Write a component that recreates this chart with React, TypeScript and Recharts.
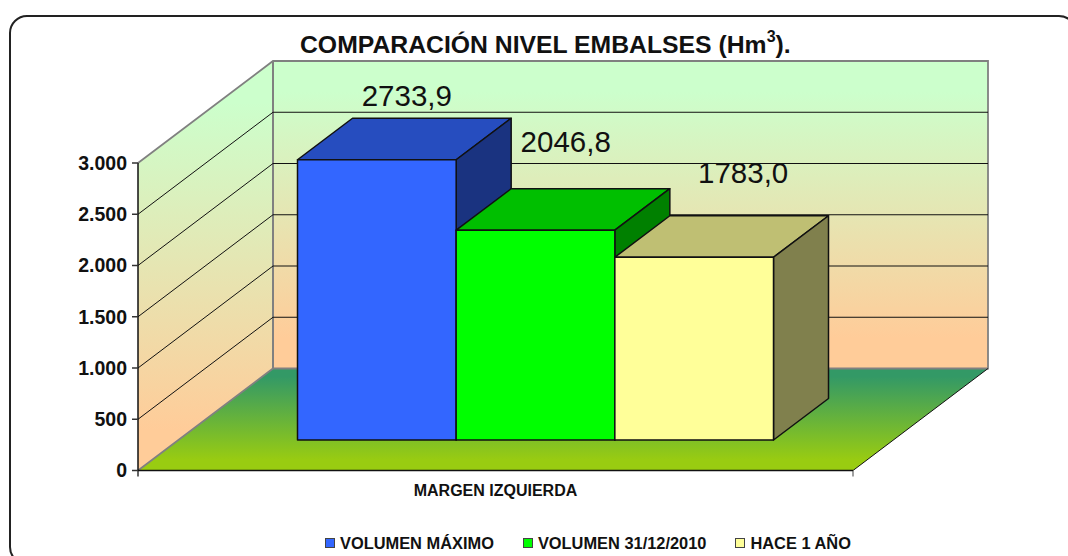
import React from "react";
import { BarChart, Bar, XAxis, YAxis, CartesianGrid, ReferenceArea, Legend, LabelList } from "recharts";

const categories = ["MARGEN IZQUIERDA"];
const seriesNames = ["VOLUMEN MÁXIMO", "VOLUMEN 31/12/2010", "HACE 1 AÑO"];
const volumenMaximo = [2733.9];
const volumen2010 = [2046.8];
const haceUnAno = [1783.0];
const yTicks = [0, 500, 1000, 1500, 2000, 2500, 3000];

const rows = categories.map((c, i) => ({
  category: c,
  a: volumenMaximo[i],
  b: volumen2010[i],
  c: haceUnAno[i],
}));

const FONT = "'Liberation Sans', Arial, sans-serif";
const DEPTH_X = 135;
const DEPTH_Y = 102;
const BAR_SHIFT_X = 40.5;
const BAR_SHIFT_Y = 30.5;
const BAR_DEPTH_X = 55;
const BAR_DEPTH_Y = 41.5;

const palette = [
  { front: "#3366FF", top: "#264DBF", side: "#1A3380" },
  { front: "#00FF00", top: "#00BF00", side: "#008000" },
  { front: "#FFFF99", top: "#BFBF73", side: "#80804D" },
];
const labelNudges = [
  { dx: 70.5, dy: -84.5 },
  { dx: 70.7, dy: -108.6 },
  { dx: 89.5, dy: -105 },
];

const pts = (list: number[][]) => list.map((p) => p.join(",")).join(" ");

const bar3d = (idx: number) => (props: any) => {
  const { x, y, width, height } = props;
  const c = palette[idx];
  const l = x + BAR_SHIFT_X;
  const r = l + width;
  const t = y - BAR_SHIFT_Y;
  const b = t + height;
  const dx = BAR_DEPTH_X;
  const dy = BAR_DEPTH_Y;
  const stroke = { stroke: "#111", strokeWidth: 1.5, strokeLinejoin: "round" as const };
  return (
    <g>
      <polygon points={pts([[l, t], [l + dx, t - dy], [r + dx, t - dy], [r, t]])} fill={c.top} {...stroke} />
      <polygon points={pts([[r, t], [r + dx, t - dy], [r + dx, b - dy], [r, b]])} fill={c.side} {...stroke} />
      <rect x={l} y={t} width={width} height={height} fill={c.front} {...stroke} />
    </g>
  );
};

const barLabel = (idx: number) => (props: any) => {
  const { x, y, width, value } = props;
  return (
    <text
      x={x + width / 2 + labelNudges[idx].dx}
      y={y + labelNudges[idx].dy}
      textAnchor="middle"
      fontFamily={FONT}
      fontSize={29.5}
      fill="#111"
    >
      {Number(value).toFixed(1).replace(".", ",")}
    </text>
  );
};

const Walls = (props: any) => {
  const { x, y, width, height } = props;
  const l = x;
  const r = x + width;
  const t = y;
  const b = y + height;
  return (
    <g>
      <defs>
        <linearGradient id="wallGrad" x1="0" y1="0" x2="0" y2="1">
          <stop offset="0.1" stopColor="#CCFFCC" />
          <stop offset="0.9" stopColor="#FFCC99" />
        </linearGradient>
        <linearGradient id="floorGrad" x1="0" y1="0" x2="0" y2="1">
          <stop offset="0.08" stopColor="#339966" />
          <stop offset="0.9" stopColor="#99CC11" />
        </linearGradient>
      </defs>
      <polygon
        points={pts([[l, t], [l + DEPTH_X, t - DEPTH_Y], [l + DEPTH_X, b - DEPTH_Y], [l, b]])}
        fill="url(#wallGrad)"
      />
      <rect
        x={l + DEPTH_X}
        y={t - DEPTH_Y}
        width={width}
        height={height}
        fill="url(#wallGrad)"
      />
      <polygon
        points={pts([[l, b], [l + DEPTH_X, b - DEPTH_Y], [r + DEPTH_X, b - DEPTH_Y], [r, b]])}
        fill="url(#floorGrad)"
      />
      <polyline
        points={pts([[l, t], [l + DEPTH_X, t - DEPTH_Y], [r + DEPTH_X, t - DEPTH_Y], [r + DEPTH_X, b - DEPTH_Y], [l + DEPTH_X, b - DEPTH_Y], [l, b]])}
        fill="none"
        stroke="#808080"
        strokeWidth={1.8}
      />
      <line x1={l + DEPTH_X} y1={t - DEPTH_Y} x2={l + DEPTH_X} y2={b - DEPTH_Y} stroke="#808080" strokeWidth={2} />
      <line x1={r} y1={b} x2={r + DEPTH_X} y2={b - DEPTH_Y} stroke="#111" strokeWidth={1} />
      <line x1={l} y1={b} x2={l} y2={b + 6} stroke="#333" strokeWidth={1.5} />
      <line x1={r} y1={b} x2={r} y2={b + 6} stroke="#808080" strokeWidth={1.5} />
    </g>
  );
};

const gridLine = (props: any) => {
  const { x1, x2, y1, index } = props;
  if (index === 0 || y1 == null) return <g key={index} />;
  const isEdge = props.index === yTicks.length - 1;
  return (
    <polyline
      key={`${index}-${y1}`}
      points={pts([[x1, y1], [x1 + DEPTH_X, y1 - DEPTH_Y], [x2 + DEPTH_X, y1 - DEPTH_Y]])}
      fill="none"
      stroke={isEdge ? "none" : "#111"}
      strokeWidth={1}
    />
  );
};

const LegendContent = (props: any) => {
  const payload = props.payload || [];
  return (
    <div style={{ display: "flex", alignItems: "center", fontFamily: FONT, fontWeight: 700, fontSize: 16.4, lineHeight: "18px", color: "#111", whiteSpace: "nowrap" }}>
      {payload.map((p: any, i: number) => (
        <div key={p.value} style={{ display: "flex", alignItems: "center", marginRight: 29 }}>
          <span style={{ display: "inline-block", width: 8, height: 8, background: palette[i].front, border: "1.4px solid #444", marginRight: 5 }} />
          <span>{p.value}</span>
        </div>
      ))}
    </div>
  );
};

export default function App() {
  return (
    <div style={{ position: "absolute", left: 0, top: 0, width: 1068, height: 556, overflow: "hidden", background: "#fff" }}>
      <div style={{ position: "absolute", left: 8.5, top: 14.5, width: 1068, height: 550, boxSizing: "border-box", border: "2px solid #222", borderRadius: 18 }} />
      <div style={{ position: "absolute", left: 300, top: 30, fontFamily: FONT, fontWeight: 700, fontSize: 24.75, lineHeight: "30px", color: "#111", whiteSpace: "nowrap" }}>
        COMPARACIÓN NIVEL EMBALSES (Hm<span style={{ fontSize: 16, position: "relative", top: -11 }}>3</span>).
      </div>
      <BarChart
        width={1068}
        height={556}
        data={rows}
        barSize={158.67}
        barGap={0}
        margin={{ top: 163, right: 215, bottom: 55.5, left: 0 }}
        style={{ position: "absolute", left: 0, top: 0 }}
      >
        <ReferenceArea x1={categories[0]} x2={categories[0]} y1={0} y2={3000} shape={Walls} ifOverflow="visible" zIndex={-200} />
        <CartesianGrid vertical={false} horizontal={gridLine} />
        <XAxis
          dataKey="category"
          height={30}
          tickLine={false}
          axisLine={{ stroke: "#111", strokeWidth: 1.5 }}
          tick={{ fontFamily: FONT, fontWeight: 700, fontSize: 16, fill: "#111" }}
          tickMargin={8}
        />
        <YAxis
          width={138}
          domain={[0, 3000]}
          ticks={yTicks}
          tickFormatter={(v: number) => v.toLocaleString("de-DE")}
          tickLine={{ stroke: "#333", strokeWidth: 1.5 }}
          tickSize={6}
          tickMargin={5}
          axisLine={{ stroke: "#111", strokeWidth: 1.5 }}
          tick={{ fontFamily: FONT, fontWeight: 700, fontSize: 19.5, fill: "#111" }}
        />
        <Legend
          layout="horizontal"
          align="center"
          verticalAlign="middle"
          itemSorter={null}
          content={LegendContent}
          wrapperStyle={{ left: 325, top: 534, width: 700, height: 18 }}
        />
        <Bar dataKey="a" name={seriesNames[0]} fill={palette[0].front} shape={bar3d(0)} isAnimationActive={false}>
          <LabelList dataKey="a" content={barLabel(0)} />
        </Bar>
        <Bar dataKey="b" name={seriesNames[1]} fill={palette[1].front} shape={bar3d(1)} isAnimationActive={false}>
          <LabelList dataKey="b" content={barLabel(1)} />
        </Bar>
        <Bar dataKey="c" name={seriesNames[2]} fill={palette[2].front} shape={bar3d(2)} isAnimationActive={false}>
          <LabelList dataKey="c" content={barLabel(2)} />
        </Bar>
      </BarChart>
    </div>
  );
}
